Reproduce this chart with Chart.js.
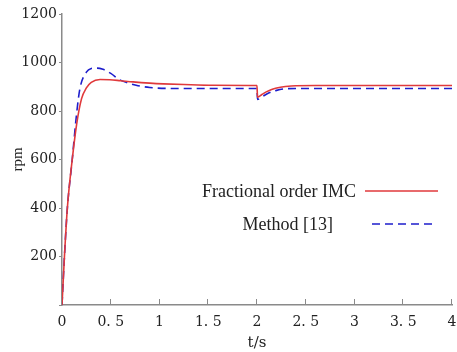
<!DOCTYPE html>
<html>
<head>
<meta charset="utf-8">
<script src="https://cdn.jsdelivr.net/npm/chart.js@4"></script>
<style>
  body { margin: 0; background: #fff; }
  #wrap { width: 457px; height: 352px; }
</style>
</head>
<body>
<div id="wrap"><canvas id="speedChart" width="457" height="352"></canvas></div>
<script>
// Speed response data
const tImc = [0, 0.025, 0.055, 0.105, 0.15, 0.2, 0.25, 0.3, 0.39, 0.49, 0.6, 0.73, 0.9, 1.04, 1.25, 1.55, 2.0, 2.005, 2.05, 2.1, 2.15, 2.24, 2.35, 2.6, 3, 4];
const rpmImc = [0, 200, 400, 600, 745, 850, 895, 918, 930, 929, 925, 920, 915, 912, 909, 906, 905, 857, 868, 880, 889, 898, 903, 905, 905, 905];

const tRef = [0, 0.025, 0.055, 0.105, 0.15, 0.185, 0.25, 0.3, 0.36, 0.42, 0.5, 0.59, 0.68, 0.76, 0.9, 1.1, 1.5, 2.0, 2.005, 2.05, 2.1, 2.2, 2.3, 2.5, 3, 4];
const rpmRef = [0, 200, 400, 600, 790, 895, 960, 975, 977, 972, 955, 929, 915, 906, 897, 893, 893, 893, 848, 858, 870, 885, 892, 893, 893, 893];

const seriesNames = ['Fractional order IMC', 'Method [13]'];
const xTicks = [0, 0.5, 1, 1.5, 2, 2.5, 3, 3.5, 4];

const serif = "'Liberation Serif', serif";
const wideSerif = "'DejaVu Serif', serif";
const axisGray = '#8a8a8a';

function toPoints(xs, ys) {
    return xs.map((x, i) => ({ x: x, y: ys[i] }));
}

// x ticks point into the plot, draw them by hand
const innerTicks = {
    id: 'innerTicks',
    afterDraw(chart) {
        const ctx = chart.ctx;
        const xs = chart.scales.x;
        const bottom = chart.chartArea.bottom;
        ctx.save();
        ctx.strokeStyle = axisGray;
        ctx.lineWidth = 1;
        xTicks.forEach(v => {
            if (v === 0) return;
            const px = Math.round(xs.getPixelForValue(v)) - 0.5;
            ctx.beginPath();
            ctx.moveTo(px, bottom);
            ctx.lineTo(px, bottom - 6);
            ctx.stroke();
        });
        ctx.restore();
    }
};

// legend with text first and line sample after it
const sideLegend = {
    id: 'sideLegend',
    afterDraw(chart) {
        const ctx = chart.ctx;
        const area = chart.chartArea;
        const rows = [
            { textRight: area.left + 294, y: area.top + 177, x0: area.left + 303, x1: area.left + 376 },
            { textRight: area.left + 271, y: area.top + 210, x0: area.left + 310, x1: area.left + 370 }
        ];
        ctx.save();
        ctx.font = '18px ' + serif;
        ctx.textBaseline = 'middle';
        ctx.textAlign = 'right';
        chart.data.datasets.forEach((ds, i) => {
            const r = rows[i];
            ctx.fillStyle = '#222';
            ctx.fillText(ds.label, r.textRight, r.y + 1);
            ctx.strokeStyle = ds.borderColor;
            ctx.lineWidth = ds.borderWidth;
            ctx.setLineDash(ds.borderDash || []);
            ctx.beginPath();
            ctx.moveTo(r.x0, r.y);
            ctx.lineTo(r.x1, r.y);
            ctx.stroke();
        });
        ctx.restore();
    }
};

const ctx = document.getElementById('speedChart').getContext('2d');
const chart = new Chart(ctx, {
    type: 'line',
    data: {
        datasets: [{
            label: seriesNames[0],
            data: toPoints(tImc, rpmImc),
            borderColor: '#e0393b',
            borderWidth: 1.6,
            pointRadius: 0,
            cubicInterpolationMode: 'monotone',
            fill: false
        }, {
            label: seriesNames[1],
            data: toPoints(tRef, rpmRef),
            borderColor: '#1e1ecc',
            borderWidth: 1.6,
            borderDash: [8, 5],
            pointRadius: 0,
            cubicInterpolationMode: 'monotone',
            fill: false
        }]
    },
    options: {
        responsive: false,
        animation: false,
        layout: { padding: { top: 14, right: 5, left: 0, bottom: 0 } },
        plugins: {
            legend: { display: false },
            tooltip: { enabled: false }
        },
        scales: {
            x: {
                type: 'linear',
                min: 0,
                max: 4,
                afterBuildTicks(scale) {
                    scale.ticks = xTicks.map(v => ({ value: v }));
                },
                afterFit(scale) {
                    scale.height = 47;
                    scale.paddingRight = 0;
                    scale.paddingLeft = 0;
                },
                grid: { display: false, drawTicks: false },
                border: { display: true, color: axisGray, width: 1.5 },
                ticks: {
                    color: '#222',
                    padding: 9,
                    maxRotation: 0,
                    font: { family: wideSerif, size: 14 },
                    callback: v => String(v).replace('.', '. ')
                },
                title: {
                    display: true,
                    text: 't/s',
                    color: '#222',
                    padding: { top: 0, bottom: 0 },
                    font: { family: wideSerif, size: 15 }
                }
            },
            y: {
                min: 0,
                max: 1200,
                afterFit(scale) { scale.width = 62; },
                grid: { drawOnChartArea: false, drawTicks: true, tickLength: 3, color: axisGray },
                border: { display: true, color: axisGray, width: 1.5 },
                ticks: {
                    stepSize: 200,
                    color: '#222',
                    padding: 2,
                    font: { family: wideSerif, size: 14 },
                    callback: v => v === 0 ? '' : v
                },
                title: {
                    display: true,
                    text: 'rpm',
                    color: '#222',
                    padding: { top: 9, bottom: 0 },
                    font: { family: serif, size: 15 }
                }
            }
        }
    },
    plugins: [innerTicks, sideLegend]
});
</script>
</body>
</html>
